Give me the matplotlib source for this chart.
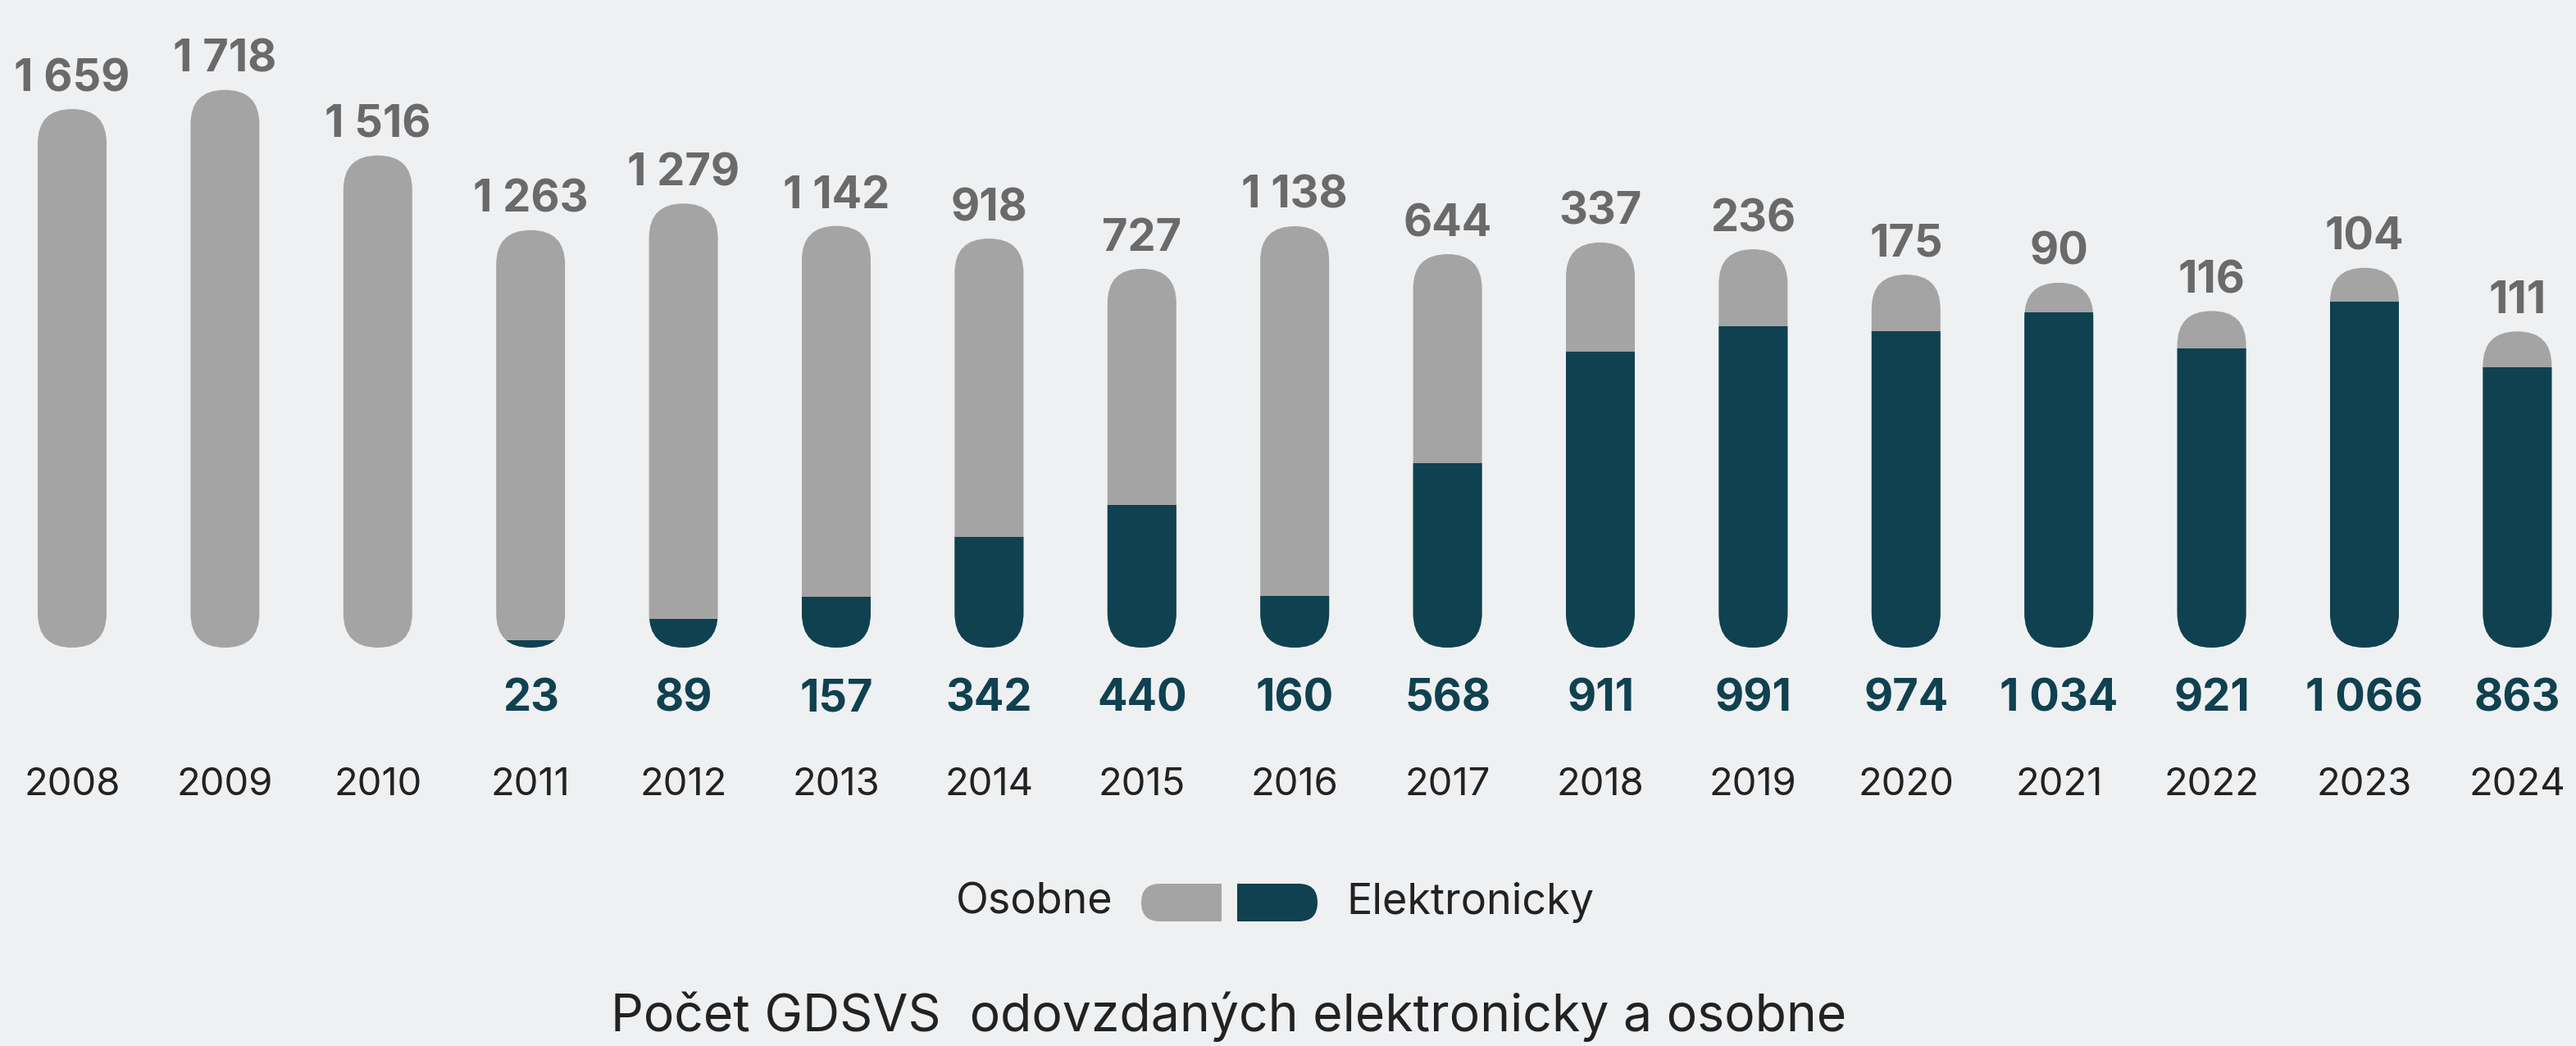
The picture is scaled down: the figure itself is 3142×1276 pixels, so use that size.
"""Stacked pill bars: GDSVS submitted electronically vs. in person."""
import matplotlib
matplotlib.use("Agg")
import matplotlib.pyplot as plt
from matplotlib.patches import FancyBboxPatch, Rectangle

years = ["2008", "2009", "2010", "2011", "2012", "2013", "2014", "2015", "2016",
         "2017", "2018", "2019", "2020", "2021", "2022", "2023", "2024"]
osobne = [1659, 1718, 1516, 1263, 1279, 1142, 918, 727, 1138,
          644, 337, 236, 175, 90, 116, 104, 111]
elektronicky = [0, 0, 0, 23, 89, 157, 342, 440, 160,
                568, 911, 991, 974, 1034, 921, 1066, 863]

BG = "#eff0f2"
GRAY = "#a4a4a4"
GRAY_TXT = "#6a6a6a"
DARK = "#0f4150"
TXT = "#222222"

W, H = 3142, 1276
px_per_x = 186.4   # pixels per category
px_per_y = 0.396   # pixels per unit of value
base_px = 790      # pixel row of value 0 (from top)
first_px = 88      # pixel column of first bar centre

plt.rcParams["font.family"] = ["Inter", "DejaVu Sans"]

fig = plt.figure(figsize=(W / 100, H / 100), dpi=100)
fig.patch.set_facecolor(BG)
ax = fig.add_axes([0, 0, 1, 1])
ax.set_facecolor(BG)
ax.set_xlim(-first_px / px_per_x, (W - first_px) / px_per_x)
ax.set_ylim(-(H - base_px) / px_per_y, base_px / px_per_y)
ax.axis("off")

bar_w = 84 / px_per_x
aspect = px_per_x / px_per_y
style = f"round,pad=0,rounding_size={bar_w / 2}"


def to_val(px):
    """Pixel offset -> value units."""
    return px / px_per_y


def fmt(v):
    return f"{v:,}".replace(",", " ")


for i, (o, e) in enumerate(zip(osobne, elektronicky)):
    total = o + e
    x0 = i - bar_w / 2
    grey_bar = FancyBboxPatch((x0, 0), bar_w, total, boxstyle=style,
                              mutation_aspect=aspect, fc=GRAY, ec="none")
    ax.add_patch(grey_bar)
    if e > 0:
        dark_bar = FancyBboxPatch((x0, 0), bar_w, total, boxstyle=style,
                                  mutation_aspect=aspect, fc=DARK, ec="none")
        ax.add_patch(dark_bar)
        clip = Rectangle((i - bar_w, -to_val(200)), 2 * bar_w, to_val(200) + e,
                         transform=ax.transData)
        dark_bar.set_clip_path(clip)
        ax.text(i, -to_val(78), fmt(e), ha="center", va="baseline",
                fontsize=39, fontweight="bold", color=DARK)

    # label on top of the bar
    ax.text(i, total + to_val(22), fmt(o), ha="center", va="baseline",
            fontsize=39, fontweight="bold", color=GRAY_TXT)

    # year
    ax.text(i, -to_val(180), years[i], ha="center", va="baseline",
            fontsize=34, color=TXT)

# legend
lg = fig.add_axes([0, 0, 1, 1])
lg.set_xlim(0, W)
lg.set_ylim(H, 0)
lg.axis("off")
lg.patch.set_alpha(0)
pill = "round,pad=0,rounding_size=23"
p1 = FancyBboxPatch((1392, 1078), 160, 46, boxstyle=pill, fc=GRAY, ec="none")
lg.add_patch(p1)
p1.set_clip_path(Rectangle((1380, 1060), 110, 80, transform=lg.transData))
p2 = FancyBboxPatch((1447, 1078), 160, 46, boxstyle=pill, fc=DARK, ec="none")
lg.add_patch(p2)
p2.set_clip_path(Rectangle((1509, 1060), 110, 80, transform=lg.transData))
lg.text(1358, 1101, "Osobne", ha="right", va="center", fontsize=37.5, color=TXT)
lg.text(1642, 1101, "Elektronicky", ha="left", va="center", fontsize=37.5, color=TXT)

lg.text(1499, 1240, "Počet GDSVS  odovzdaných elektronicky a osobne",
        ha="center", va="center", fontsize=45, color=TXT)

fig.savefig("out.png", dpi=100, facecolor=BG)
